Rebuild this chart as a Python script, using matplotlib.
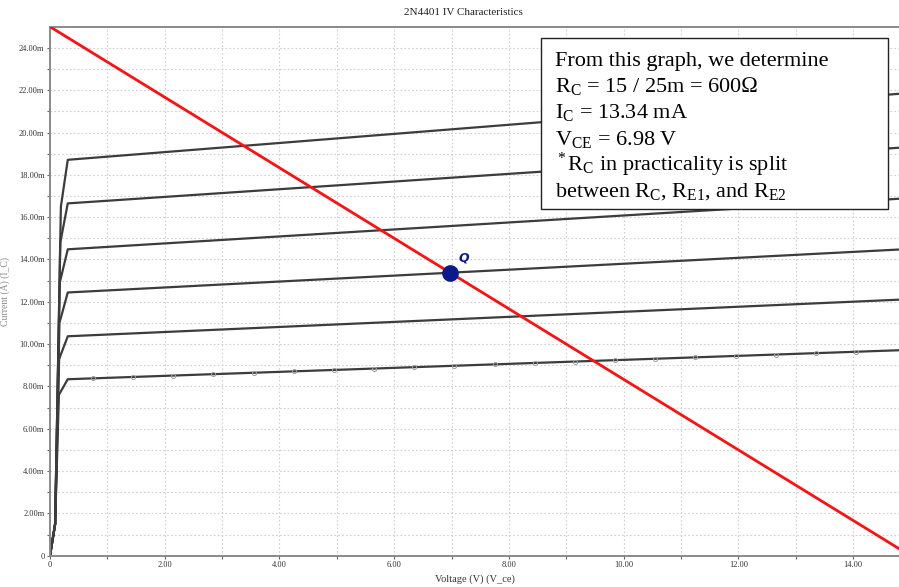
import numpy as np
import matplotlib
matplotlib.use("Agg")
import matplotlib.pyplot as plt
from matplotlib.patches import Rectangle

# =========================
# DATOS
# =========================
v_start = [0.0, 0.09]            # tramo inicial comun (V)
i_start = [0.0, 1.5]             # (mA)
v_rise = [0.19, 0.18, 0.17, 0.165, 0.16, 0.155]   # fin de la subida vertical
i_rise = [16.5, 14.8, 12.9, 11.0, 9.3, 7.6]
v_knee = 0.31
i_knee = [18.71, 16.65, 14.48, 12.44, 10.37, 8.34]
v_end = 14.8
i_end = [21.83, 19.28, 16.87, 14.47, 12.10, 9.71]

# recta de carga
load_v = [0.0, 15.0]
load_i = [25.0, 0.0]

# punto Q
q_v = 6.98
q_i = 13.34

# marcadores de la curva inferior
marker_v = [0.75, 1.45, 2.15, 2.85, 3.55, 4.25, 4.95, 5.65, 6.35, 7.05,
            7.75, 8.45, 9.15, 9.85, 10.55, 11.25, 11.95, 12.65, 13.35, 14.05]

x_ticks = [0, 2, 4, 6, 8, 10, 12, 14]
x_labels = ["0", "2.00", "4.00", "6.00", "8.00", "10.00", "12.00", "14.00"]
y_ticks = [0, 2, 4, 6, 8, 10, 12, 14, 16, 18, 20, 22, 24]
y_labels = ["0"] + [f"{t:.2f}m" for t in y_ticks[1:]]

box_lines = [
    "From this graph, we determine",
    "R$_\\mathrm{C}$ = 15 / 25m = 600\u2126",
    "I$_\\mathrm{C}$ = 13.34 mA",
    "V$_\\mathrm{CE}$ = 6.98 V",
    "$^*$R$_\\mathrm{C}$ in practicality is split",
    "between R$_\\mathrm{C}$, R$_\\mathrm{E1}$, and R$_\\mathrm{E2}$",
]

serif = "Liberation Serif"
plt.rcParams["mathtext.fontset"] = "custom"
plt.rcParams["mathtext.rm"] = serif
plt.rcParams["mathtext.it"] = serif + ":italic"

W, H = 899, 587
fig = plt.figure(figsize=(W / 100, H / 100), dpi=100)
ax = fig.add_axes([0.0556, 0.0533, 0.9444, 0.9012])

# grid punteado cada 1 unidad
for gx in range(1, 15):
    ax.axvline(gx, color="#cfcfcf", lw=0.8, ls=(0, (1.5, 2)), zorder=0)
for gy in range(1, 25):
    ax.axhline(gy, color="#cfcfcf", lw=0.8, ls=(0, (1.5, 2)), zorder=0)

# curvas IV
for k in range(len(i_knee)):
    vx = v_start + [v_rise[k], v_knee, v_end]
    iy = i_start + [i_rise[k], i_knee[k], i_end[k]]
    ax.plot(vx, iy, color="#3c3c3c", lw=1.6, zorder=2)
    if k == len(i_knee) - 1:
        ax.plot(marker_v, np.interp(marker_v, vx, iy), ls="none", marker="o",
                ms=3, mfc="none", mec="#a0a0a0", mew=0.7, zorder=3)

# recta de carga y punto Q
ax.plot(load_v, load_i, color="#ff1010", lw=2.0, zorder=4)
ax.plot([q_v], [q_i], marker="o", ms=11, color="#0a1a8c", zorder=5)
ax.text(q_v + 0.15, q_i + 0.55, "Q", color="#0a1a8c", fontsize=9,
        fontweight="bold", fontstyle="italic", family="DejaVu Sans", zorder=5)

ax.set_xlim(0, v_end)
ax.set_ylim(0, 25)
ax.set_xticks(x_ticks)
ax.set_xticklabels(x_labels)
ax.set_yticks(y_ticks)
ax.set_yticklabels(y_labels)
ax.set_xticks(range(1, 15, 2), minor=True)
ax.set_yticks(range(1, 25, 2), minor=True)
ax.tick_params(axis="both", which="both", length=2, width=0.8, color="#666666",
               labelsize=6, labelcolor="#333333", pad=2)
for lab in ax.get_xticklabels() + ax.get_yticklabels():
    lab.set_family(serif)

for side in ["left", "bottom", "top"]:
    ax.spines[side].set_color("#8a8a8a")
    ax.spines[side].set_linewidth(1.4)
ax.spines["right"].set_visible(False)

ax.set_xlabel("Voltage (V) (V_ce)", family=serif, fontsize=7.5,
              color="#333333", labelpad=4)
ax.set_ylabel("Current (A) (I_C)", family=serif, fontsize=7,
              color="#8a8a8a")
ax.yaxis.set_label_coords(-0.047, 0.5)
fig.text(0.516, 0.978, "2N4401 IV Characteristics", family=serif,
         fontsize=8, ha="center", va="center", color="#222222")

# cuadro de texto (posiciones en pixeles de la figura)
fig.add_artist(Rectangle((541 / W, 1 - 209 / H), 347 / W, 171 / H,
                         transform=fig.transFigure, fc="white",
                         ec="#222222", lw=1.0, zorder=6))
for n, line in enumerate(box_lines):
    fig.text(555 / W, 1 - (66 + 26.2 * n) / H, line, family=serif,
             fontsize=16, ha="left", va="baseline", color="black", zorder=7)

fig.savefig("out.png", dpi=100)
